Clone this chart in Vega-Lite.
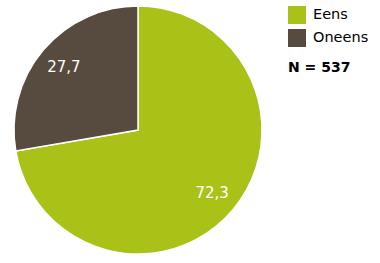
{
  "$schema": "https://vega.github.io/schema/vega-lite/v6.json",
  "autosize": {"type": "none"},
  "width": 276,
  "height": 260,
  "padding": {"left": 0, "top": 0, "right": 104, "bottom": 3},
  "background": "white",
  "config": {
    "view": {"stroke": null},
    "font": "DejaVu Sans",
    "locale": {"number": {"decimal": ",", "thousands": ".", "grouping": [3], "currency": ["€", ""]}}
  },
  "data": {
    "values": [
      {"antwoord": "Eens", "percentage": 72.3},
      {"antwoord": "Oneens", "percentage": 27.7}
    ]
  },
  "encoding": {
    "theta": {"field": "percentage", "type": "quantitative", "stack": true},
    "order": {"field": "antwoord", "sort": "ascending"}
  },
  "layer": [
    {
      "mark": {"type": "arc", "outerRadius": 124, "stroke": "white", "strokeWidth": 1.5},
      "encoding": {
        "color": {
          "field": "antwoord",
          "type": "nominal",
          "scale": {"domain": ["Eens", "Oneens"], "range": ["#aac217", "#574a3e"]},
          "legend": {
            "title": "N = 537",
            "titleOrient": "bottom",
            "titleFontSize": 14,
            "titleFontWeight": "bold",
            "titleColor": "black",
            "titlePadding": 14,
            "orient": "none",
            "legendX": 288,
            "legendY": 6,
            "padding": 0,
            "symbolType": "square",
            "symbolSize": 324,
            "symbolStrokeWidth": 0,
            "symbolOpacity": 1,
            "labelFontSize": 14.5,
            "labelColor": "black",
            "labelOffset": 7,
            "rowPadding": 5
          }
        }
      }
    },
    {
      "mark": {"type": "text", "radius": 97, "fontSize": 15, "color": "white"},
      "encoding": {
        "text": {"field": "percentage", "type": "quantitative", "format": ".1f"}
      }
    }
  ]
}
